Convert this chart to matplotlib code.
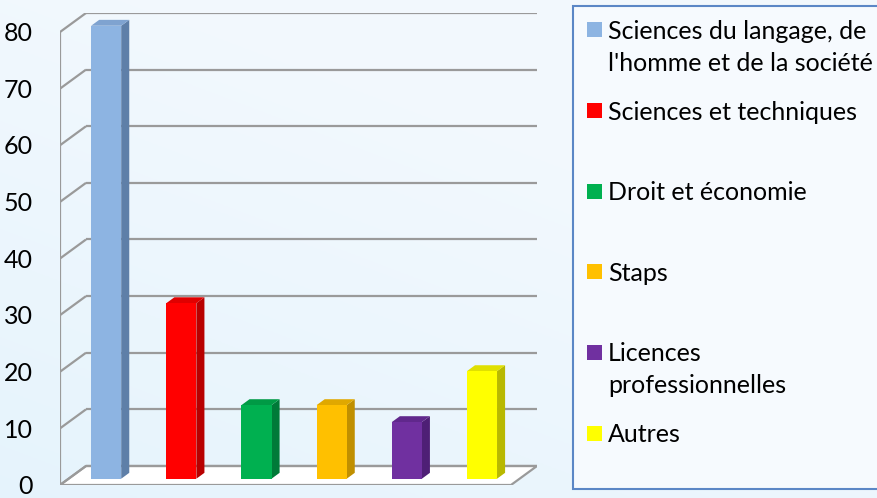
import numpy as np
import matplotlib.pyplot as plt
from matplotlib.patches import Polygon, Rectangle

categories = [
    "Sciences du langage, de\nl'homme et de la société",
    "Sciences et techniques",
    "Droit et économie",
    "Staps",
    "Licences\nprofessionnelles",
    "Autres",
]
values = [80, 31, 13, 13, 10, 19]
front_colors = ["#8db4e2", "#ff0000", "#00b050", "#ffc000", "#7030a0", "#ffff00"]
side_colors = ["#5e7fa8", "#b80000", "#007a38", "#c08f00", "#4e1f75", "#b8b800"]
top_colors = ["#7fa3d0", "#e00000", "#009a45", "#e0a800", "#60288c", "#e0e000"]
yticks = [0, 10, 20, 30, 40, 50, 60, 70, 80]

plt.rcParams["font.family"] = ["Lato", "DejaVu Sans"]

W, H = 877, 498
fig = plt.figure(figsize=(W / 100, H / 100), dpi=100)

# soft blue background
bg = fig.add_axes([0, 0, 1, 1], zorder=-10)
yy, xx = np.mgrid[0:1:200j, 0:1:350j]
shade = np.clip(1 - (xx * 0.6 + (1 - yy) * 0.9), 0, 1)
base = np.array([0.95, 0.975, 0.995])
tint = np.array([0.90, 0.955, 0.99])
img = base + (tint - base) * shade[..., None]
bg.imshow(img, extent=[0, 1, 0, 1], aspect="auto", origin="upper")
bg.axis("off")

# pseudo 3D depth offsets (data units)
DX, DY = 0.346, 3.36
d0, d1 = 0.33, 0.64
bw = 0.4

ax = fig.add_axes([60 / W, 13 / H, 477 / W, 472 / H])
ax.set_xlim(-0.5, 5.5 + DX)
ax.set_ylim(0, 80 + DY)
ax.axis("off")

grid_kw = dict(color="#9a9a9a", lw=1.6, solid_capstyle="butt", zorder=1)

# floor
ax.add_patch(Polygon([(-0.5, 0), (5.5, 0), (5.5 + DX, DY), (-0.5 + DX, DY)],
                     closed=True, facecolor="white", edgecolor="#9a9a9a",
                     lw=1.6, zorder=0.5))

# back wall gridlines, side wall diagonals and front axis
for t in yticks:
    ax.plot([-0.5 + DX, 5.5 + DX], [t + DY, t + DY], **grid_kw)
    ax.plot([-0.5, -0.5 + DX], [t, t + DY], **grid_kw)
    ax.plot([-0.5 - 0.1, -0.5], [t, t], **grid_kw)
    ax.text(-0.5 - 0.36, t - 0.3, str(t), ha="right", va="center", fontsize=18,
            color="black")
ax.plot([-0.5, -0.5], [0, 80], **grid_kw)

# bars
for i, v in enumerate(values):
    xl = i - bw / 2
    xr = i + bw / 2
    f = [(xl + d0 * DX, d0 * DY), (xr + d0 * DX, d0 * DY),
         (xr + d0 * DX, v + d0 * DY), (xl + d0 * DX, v + d0 * DY)]
    s = [(xr + d0 * DX, d0 * DY), (xr + d1 * DX, d1 * DY),
         (xr + d1 * DX, v + d1 * DY), (xr + d0 * DX, v + d0 * DY)]
    tp = [(xl + d0 * DX, v + d0 * DY), (xr + d0 * DX, v + d0 * DY),
          (xr + d1 * DX, v + d1 * DY), (xl + d1 * DX, v + d1 * DY)]
    ax.add_patch(Polygon(s, closed=True, facecolor=side_colors[i], lw=0, zorder=3))
    ax.add_patch(Polygon(tp, closed=True, facecolor=top_colors[i], lw=0, zorder=3))
    ax.add_patch(Polygon(f, closed=True, facecolor=front_colors[i], lw=0, zorder=4))

# legend box
fig.patches.append(Rectangle((573 / W, 1 - 489 / H), 320 / W, 483 / H,
                             transform=fig.transFigure, facecolor="#f6fafe",
                             edgecolor="#5b87c6", lw=1.5, zorder=1))
for i, lab in enumerate(categories):
    yc = 30 + 80.6 * i
    fig.patches.append(Rectangle((587 / W, 1 - (yc + 7.5) / H), 15 / W, 15 / H,
                                 transform=fig.transFigure,
                                 facecolor=front_colors[i], lw=0, zorder=2))
    for k, line in enumerate(lab.split("\n")):
        fig.text(608 / W, 1 - (yc + 9 + 32 * k) / H, line, ha="left",
                 va="baseline", fontsize=18, color="black", zorder=3)

fig.savefig("out.png", dpi=100)
